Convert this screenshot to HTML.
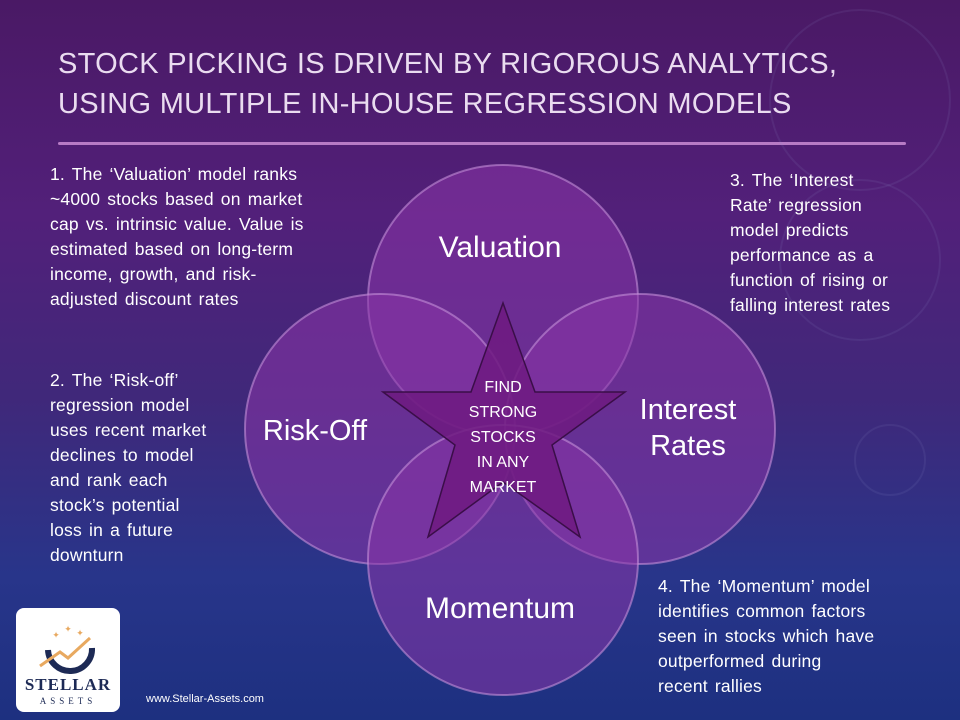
<!DOCTYPE html>
<html><head><meta charset="utf-8"><style>
html,body{margin:0;padding:0}
body{width:960px;height:720px;overflow:hidden;position:relative;font-family:"Liberation Sans",sans-serif;
background:linear-gradient(180deg,#4a1965 0%,#52207a 30%,#40287a 55%,#28358a 80%,#1d3080 100%);}
.t{position:absolute;color:#fff;font-size:17.5px;line-height:25px;word-spacing:2px;letter-spacing:0.2px}
.t span{display:block;white-space:nowrap}
.title{position:absolute;left:58px;top:44px;color:#eadcf0;font-size:29px;line-height:40px;letter-spacing:0.3px}
</style></head><body>
<div class="title">STOCK PICKING IS DRIVEN BY RIGOROUS ANALYTICS,<br>USING MULTIPLE IN-HOUSE REGRESSION MODELS</div>
<div style="position:absolute;left:58px;top:142px;width:848px;height:3px;background:#b77bc5;border-radius:2px"></div>
<svg width="960" height="720" style="position:absolute;left:0;top:0">
<g fill="none" stroke="#8a8fc8" stroke-opacity="0.12" stroke-width="2">
<circle cx="860" cy="100" r="90"/><circle cx="860" cy="260" r="80"/><circle cx="890" cy="460" r="35"/>
</g>
<g fill="#8a35a8" fill-opacity="0.55" stroke="#c58fd8" stroke-opacity="0.6" stroke-width="2">
<circle cx="503" cy="300" r="135"/>
<circle cx="380" cy="429" r="135"/>
<circle cx="640" cy="429" r="135"/>
<circle cx="503" cy="560" r="135"/>
</g>
<polygon points="503,303 535,392 625,392 552,445 580,537 503,482 428,537 455,445 383,392 471,392" fill="#6e1a80" fill-opacity="0.85" stroke="#3a0e48" stroke-width="1.5"/>
<g fill="#fff" font-family="Liberation Sans,sans-serif" text-anchor="middle">
<text x="500" y="257" font-size="30">Valuation</text>
<text x="315" y="440" font-size="29">Risk-Off</text>
<text x="688" y="419" font-size="29">Interest</text>
<text x="688" y="455" font-size="29">Rates</text>
<text x="500" y="618" font-size="30">Momentum</text>
<g font-size="16"><text x="503" y="392">FIND</text><text x="503" y="417">STRONG</text><text x="503" y="442">STOCKS</text><text x="503" y="467">IN ANY</text><text x="503" y="492">MARKET</text></g>
</g>
</svg>
<div class="t" style="left:50px;top:162px"><span>1. The ‘Valuation’ model ranks</span><span>~4000 stocks based on market</span><span>cap vs. intrinsic value. Value is</span><span>estimated based on long-term</span><span>income, growth, and risk-</span><span>adjusted discount rates</span></div>
<div class="t" style="left:50px;top:368px"><span>2. The ‘Risk-off’</span><span>regression model</span><span>uses recent market</span><span>declines to model</span><span>and rank each</span><span>stock’s potential</span><span>loss in a future</span><span>downturn</span></div>
<div class="t" style="left:730px;top:168px"><span>3. The ‘Interest</span><span>Rate’ regression</span><span>model predicts</span><span>performance as a</span><span>function of rising or</span><span>falling interest rates</span></div>
<div class="t" style="left:658px;top:574px"><span>4. The ‘Momentum’ model</span><span>identifies common factors</span><span>seen in stocks which have</span><span>outperformed during</span><span>recent rallies</span></div>
<div style="position:absolute;left:16px;top:608px;width:104px;height:104px;background:#fff;border-radius:8px"></div>
<svg width="104" height="104" style="position:absolute;left:16px;top:608px">
<path d="M32 42 A22 22 0 1 0 76 40" fill="none" stroke="#1d2a55" stroke-width="6"/>
<polyline points="24,58 44,44 52,50 74,30" fill="none" stroke="#e8a960" stroke-width="3"/>
<g fill="#e8a960" font-size="9" text-anchor="middle"><text x="40" y="30">✦</text><text x="52" y="24">✦</text><text x="64" y="28">✦</text></g>
<text x="52" y="82" font-family="Liberation Serif,serif" font-size="17" font-weight="bold" fill="#1d2a55" text-anchor="middle" letter-spacing="1">STELLAR</text>
<text x="52" y="96" font-family="Liberation Serif,serif" font-size="9" fill="#1d2a55" text-anchor="middle" letter-spacing="4">ASSETS</text>
</svg>
<div style="position:absolute;left:146px;top:693px;color:#fff;font-size:11px">www.Stellar-Assets.com</div>
</body></html>
